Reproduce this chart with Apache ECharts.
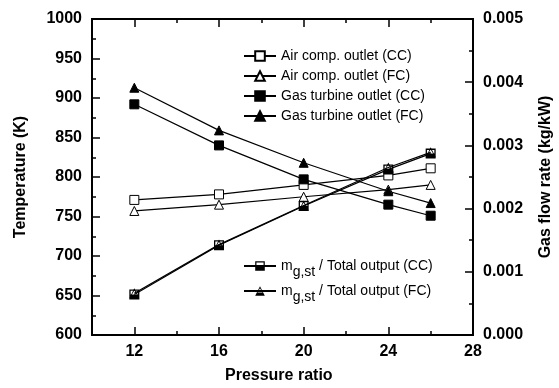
<!DOCTYPE html>
<html>
<head>
<meta charset="utf-8">
<script src="https://cdn.jsdelivr.net/npm/echarts@6/dist/echarts.min.js"></script>
<style>
  html, body { margin: 0; padding: 0; background: #fff; }
  #main { width: 559px; height: 388px; }
</style>
</head>
<body>
<div id="main"></div>
<script>
// pressure ratio
var pressure = [12, 16, 20, 24, 26]
// temperatures (K)
var airCC = [771, 778, 790, 802, 811]
var airFC = [757, 765, 775, 784, 790]
var gtCC = [892, 840, 797, 765, 751]
var gtFC = [913, 859, 818, 782, 767]
// gas flow rate (kg/kW)
var mgCC = [0.00064, 0.00142, 0.00204, 0.00262, 0.00287]
var mgFC = [0.00066, 0.00143, 0.00205, 0.00265, 0.00289]

var xMajor = [12, 16, 20, 24, 28]
var xMinor = [14, 18, 22, 26]

function pairs(ys) {
  return pressure.map(function (x, i) { return [x, ys[i]] })
}

var font = 'Liberation Sans, Arial, sans-serif'
// outline with the lower half filled
var halfSquare = 'path://M0,0 L10,0 L10,10 L0,10 Z M1.3,1.3 L1.3,5 L8.7,5 L8.7,1.3 Z'
var halfTriangle = 'path://M5,0 L10,10 L0,10 Z M5,2.2 L2.3,6.6 L7.7,6.6 Z'

var myChart = echarts.init(document.getElementById('main'))

function xAx(pos, ticks, len, labels) {
  return {
    type: 'value', position: pos, min: 10, max: 28,
    axisLine: { show: true, onZero: false, lineStyle: { color: '#000', width: 2 } },
    axisTick: { show: true, inside: true, length: len, customValues: ticks, lineStyle: { color: '#000', width: 1.5 } },
    axisLabel: labels ? {
      show: true, customValues: ticks, margin: 9, color: '#000',
      fontFamily: font, fontWeight: 'bold', fontSize: 16
    } : { show: false },
    splitLine: { show: false }
  }
}

var lineSeries = function (name, data, symbol, fill, yIdx) {
  var half = yIdx === 1
  return {
    name: name, type: 'line', data: data, yAxisIndex: yIdx || 0,
    symbol: symbol, symbolSize: half ? 10 : 9,
    lineStyle: { color: '#000', width: 1.2 },
    itemStyle: { color: fill, borderColor: '#000', borderWidth: half ? 0 : 1 },
    emphasis: { disabled: true }
  }
}

var legendText = {
  fontFamily: font, fontSize: 14, color: '#000',
  rich: {
    a: { fontFamily: font, fontSize: 14, color: '#000' },
    b: { fontFamily: font, fontSize: 14, color: '#000', verticalAlign: 'bottom', padding: [12, 0, 0, 0] }
  }
}

var option = {
  animation: false,
  grid: { left: 92, right: 86, top: 19, bottom: 53, outerBoundsMode: 'none' },
  legend: [
    {
      orient: 'vertical', left: 238, top: 44, itemWidth: 32, itemHeight: 12, itemGap: 6,
      textStyle: legendText,
      data: ['Air comp. outlet (CC)', 'Air comp. outlet (FC)', 'Gas turbine outlet (CC)', 'Gas turbine outlet (FC)']
    },
    {
      orient: 'vertical', left: 238, top: 254, itemWidth: 32, itemHeight: 12, itemGap: 5,
      textStyle: legendText,
      formatter: function (n) {
        return '{a|m}{b|g,st}{a| ' + n.replace('mg ', '') + '}'
      },
      data: ['mg / Total output (CC)', 'mg / Total output (FC)']
    }
  ],
  xAxis: [
    xAx('bottom', xMajor, 8, true),
    xAx('bottom', xMinor, 4, false),
    xAx('top', xMajor, 8, false),
    xAx('top', xMinor, 4, false)
  ],
  yAxis: [
    {
      type: 'value', position: 'left', min: 600, max: 1000, interval: 50,
      name: 'Temperature (K)', nameLocation: 'middle', nameGap: 63,
      nameTextStyle: { fontFamily: font, fontWeight: 'bold', fontSize: 16, color: '#000' },
      axisLine: { show: true, lineStyle: { color: '#000', width: 2 } },
      axisTick: { show: true, inside: true, length: 8, lineStyle: { color: '#000', width: 1.5 } },
      minorTick: { show: true, splitNumber: 2, length: 4, lineStyle: { color: '#000', width: 1.5 } },
      axisLabel: {
        margin: 10, color: '#000', fontFamily: font, fontWeight: 'bold', fontSize: 16,
        formatter: function (v) { return String(v) }
      },
      splitLine: { show: false }
    },
    {
      type: 'value', position: 'right', min: 0, max: 0.005, interval: 0.001,
      name: 'Gas flow rate (kg/kW)', nameLocation: 'middle', nameGap: 65, nameRotate: 90,
      nameTextStyle: { fontFamily: font, fontWeight: 'bold', fontSize: 16, color: '#000' },
      axisLine: { show: true, lineStyle: { color: '#000', width: 2 } },
      axisTick: { show: true, inside: true, length: 8, lineStyle: { color: '#000', width: 1.5 } },
      minorTick: { show: true, splitNumber: 2, length: 4, lineStyle: { color: '#000', width: 1.5 } },
      axisLabel: {
        margin: 10, color: '#000', fontFamily: font, fontWeight: 'bold', fontSize: 16,
        formatter: function (v) { return v.toFixed(3) }
      },
      splitLine: { show: false }
    }
  ],
  graphic: [
    {
      type: 'text', left: 225, top: 368,
      style: { text: 'Pressure ratio', fontFamily: font, fontWeight: 'bold', fontSize: 16, fill: '#000' }
    }
  ],
  series: [
    lineSeries('Air comp. outlet (CC)', pairs(airCC), 'rect', '#fff'),
    lineSeries('Air comp. outlet (FC)', pairs(airFC), 'triangle', '#fff'),
    lineSeries('Gas turbine outlet (CC)', pairs(gtCC), 'rect', '#000'),
    lineSeries('Gas turbine outlet (FC)', pairs(gtFC), 'triangle', '#000'),
    lineSeries('mg / Total output (CC)', pairs(mgCC), halfSquare, '#000', 1),
    lineSeries('mg / Total output (FC)', pairs(mgFC), halfTriangle, '#000', 1)
  ]
}
myChart.setOption(option)
</script>
</body>
</html>
